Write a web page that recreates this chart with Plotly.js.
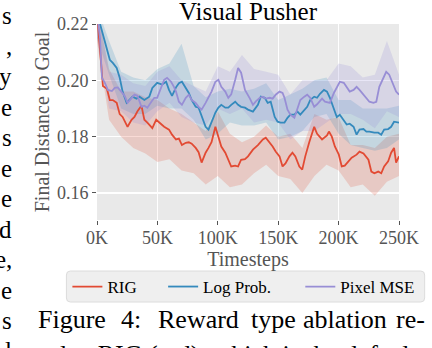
<!DOCTYPE html>
<html>
<head>
<meta charset="utf-8">
<script src="https://cdn.plot.ly/plotly-3.0.1.min.js"></script>
<style>
  html, body { margin: 0; padding: 0; background: #ffffff; }
  #chart { width: 432px; height: 348px; }
</style>
</head>
<body>
<div id="chart"></div>
<script>
// timesteps in thousands (K)
let rigSteps = [0, 2.5, 4.9, 8.2, 10.6, 13.1, 16.3, 18.8, 21.2, 25.3, 28.6, 31, 33.5, 36.8, 39.2, 41.7, 45.8, 49, 51.5, 55.6,
    59.6, 62.1, 65.4, 67.8, 70.3, 73.5, 76, 78.4, 81.7, 84.1, 86.6, 89.9, 92.3, 94.8, 98, 100.5, 102.9, 106.2, 108.7, 111.1,
    114.4, 116.8, 119.3, 122.5, 125, 129.1, 133.2, 137.3, 139.7, 143, 145.4, 147.9, 151.1, 153.6, 156, 159.3, 161.8, 164.2,
    167.5, 169.9, 172.4, 175.7, 178.1, 179.8, 182.2, 186.3, 190.4, 192, 194.4, 196.9, 200.2, 202.6, 205.1, 208.3, 210.8,
    214.9, 217.3, 220.6, 224.7, 227.1, 229.6, 232.8, 235.3, 237.7, 241, 243.5, 245.9, 247.6, 250];
let rigValues = [0.224, 0.212, 0.198, 0.197, 0.193, 0.193, 0.192, 0.188, 0.187, 0.1835, 0.186, 0.187, 0.189, 0.191, 0.186,
    0.185, 0.183, 0.186, 0.185, 0.1835, 0.1825, 0.1807, 0.179, 0.1793, 0.177, 0.1778, 0.178, 0.1775, 0.176, 0.1745, 0.1708,
    0.1743, 0.176, 0.178, 0.1835, 0.180, 0.1765, 0.1743, 0.1718, 0.1694, 0.1697, 0.1694, 0.1718, 0.172, 0.173, 0.1754, 0.177,
    0.179, 0.1796, 0.178, 0.1765, 0.1747, 0.173, 0.1694, 0.1705, 0.173, 0.1743, 0.173, 0.1694, 0.1683, 0.173, 0.178, 0.1814,
    0.1835, 0.181, 0.179, 0.1804, 0.1818, 0.180, 0.1765, 0.1736, 0.1694, 0.1697, 0.1712, 0.1725, 0.1736, 0.1747, 0.174,
    0.1718, 0.1676, 0.167, 0.1676, 0.167, 0.1694, 0.1712, 0.1743, 0.176, 0.1708, 0.173];

let logSteps = [0, 2.5, 4.9, 8.2, 10.6, 13.1, 16.3, 18.8, 21.2, 24.5, 27, 29.4, 32.7, 35.1, 39.2, 43.3, 45.8, 49.8, 53.9, 57.2,
    59.6, 62.1, 65.4, 67.8, 70.3, 73.5, 76, 78.4, 81.7, 84.1, 86.6, 89.9, 92.3, 94.8, 98, 100.5, 102.9, 106.2, 108.7, 111.1,
    114.4, 116.8, 119.3, 122.5, 125, 129.1, 133.2, 135.6, 138.9, 141.3, 143.8, 147.1, 149.5, 152, 155.2, 157.7, 160.1, 163.4,
    165.9, 168.3, 171.6, 174, 176.5, 179.8, 182.2, 184.6, 187.9, 190.4, 192.8, 196.1, 198.5, 201, 204.3, 206.7, 209.2, 212.4,
    214.9, 217.3, 220.6, 223, 225.5, 229.6, 232.8, 235.3, 237.7, 241, 243.5, 245.9, 250];
let logValues = [0.224, 0.220, 0.2154, 0.2108, 0.2073, 0.2062, 0.2044, 0.2009, 0.196, 0.192, 0.193, 0.1942, 0.1935, 0.1942,
    0.193, 0.1942, 0.1973, 0.1991, 0.1985, 0.1995, 0.1966, 0.1945, 0.1975, 0.199, 0.1995, 0.1973, 0.1955, 0.193, 0.1906,
    0.1903, 0.187, 0.1835, 0.1825, 0.185, 0.1885, 0.1903, 0.1913, 0.1903, 0.1903, 0.1913, 0.1924, 0.1913, 0.1906, 0.1903,
    0.1896, 0.1889, 0.1913, 0.1942, 0.1938, 0.192, 0.1924, 0.187, 0.1853, 0.185, 0.185, 0.1867, 0.1878, 0.1878, 0.1889,
    0.1878, 0.1896, 0.1906, 0.193, 0.1942, 0.1938, 0.1952, 0.1966, 0.196, 0.1938, 0.1896, 0.187, 0.1878, 0.186, 0.1843,
    0.1846, 0.1835, 0.1807, 0.1825, 0.1827, 0.1818, 0.1818, 0.1814, 0.1814, 0.1807, 0.1825, 0.1827, 0.1835, 0.1853, 0.185];

let mseSteps = [0, 2.5, 3.3, 4.1, 6.5, 9, 12.3, 14.7, 17.2, 20.4, 22.9, 25.3, 28.6, 31, 33.5, 36.8, 39.2, 41.7, 45, 47.4,
    49.8, 53.1, 55.6, 58, 61.3, 63.7, 65.4, 67.8, 70.3, 73.5, 76, 78.4, 81.7, 84.1, 86.6, 89.9, 92.3, 94.8, 98, 100.5, 102.9,
    106.2, 108.7, 111.1, 114.4, 116.8, 119.3, 122.5, 126.6, 129.1, 131.5, 134.8, 137.3, 139.7, 143, 145.4, 147.9, 151.1,
    153.6, 155.2, 157.7, 160.1, 163.4, 165.9, 168.3, 171.6, 174, 176.5, 179.8, 182.2, 186.3, 188.7, 192.8, 196.1, 198.5, 201,
    204.3, 206.7, 209.2, 212.4, 214.9, 217.3, 220.6, 223, 225.5, 228.8, 231.2, 233.7, 237, 239.4, 241.9, 245.1, 247.6, 250];
let mseValues = [0.224, 0.215, 0.2073, 0.2009, 0.1991, 0.1966, 0.1962, 0.1973, 0.1975, 0.196, 0.1945, 0.192, 0.1938, 0.1949,
    0.1945, 0.1906, 0.191, 0.1903, 0.1924, 0.1938, 0.1938, 0.1973, 0.2002, 0.2009, 0.1995, 0.1977, 0.196, 0.1924, 0.1913,
    0.1938, 0.1949, 0.193, 0.192, 0.1906, 0.1896, 0.192, 0.1938, 0.196, 0.1995, 0.2002, 0.1977, 0.196, 0.1938, 0.195, 0.2002,
    0.2044, 0.2027, 0.1966, 0.1935, 0.1913, 0.1925, 0.1938, 0.1942, 0.1935, 0.1938, 0.1935, 0.1949, 0.196, 0.1955, 0.1938,
    0.1896, 0.1878, 0.1867, 0.1896, 0.193, 0.1942, 0.1949, 0.1938, 0.1906, 0.1915, 0.1935, 0.1924, 0.192, 0.1955, 0.1977,
    0.1995, 0.1991, 0.1977, 0.196, 0.1966, 0.1977, 0.1966, 0.1949, 0.1938, 0.1924, 0.192, 0.1924, 0.1977, 0.2009, 0.203,
    0.202, 0.1984, 0.196, 0.1949];

// shaded spread, read every 10K
let bandSteps = [0, 10, 20, 30, 40, 50, 60, 70, 80, 90, 100, 110, 120, 130, 140, 150, 160, 170, 180, 190, 200, 210, 220, 230, 240, 250];
let rigLow = [0.214, 0.186, 0.180, 0.176, 0.174, 0.171, 0.172, 0.168, 0.167, 0.163, 0.166, 0.162, 0.163, 0.167, 0.170, 0.166,
    0.165, 0.160, 0.166, 0.170, 0.168, 0.162, 0.163, 0.159, 0.164, 0.166];
let rigHigh = [0.226, 0.204, 0.196, 0.196, 0.194, 0.193, 0.190, 0.188, 0.185, 0.182, 0.189, 0.181, 0.178, 0.180, 0.184, 0.180,
    0.181, 0.176, 0.188, 0.186, 0.187, 0.177, 0.177, 0.176, 0.180, 0.181];
let logLow = [0.215, 0.202, 0.190, 0.188, 0.188, 0.191, 0.190, 0.190, 0.186, 0.179, 0.181, 0.185, 0.184, 0.184, 0.185, 0.179,
    0.180, 0.182, 0.187, 0.188, 0.181, 0.177, 0.176, 0.175, 0.176, 0.179];
let logHigh = [0.226, 0.214, 0.203, 0.201, 0.200, 0.204, 0.206, 0.213, 0.198, 0.194, 0.196, 0.197, 0.196, 0.197, 0.199, 0.193,
    0.195, 0.197, 0.200, 0.201, 0.193, 0.193, 0.190, 0.190, 0.190, 0.191];
let mseLow = [0.215, 0.190, 0.189, 0.185, 0.184, 0.189, 0.192, 0.187, 0.185, 0.184, 0.190, 0.188, 0.190, 0.185, 0.186, 0.185,
    0.179, 0.182, 0.182, 0.185, 0.188, 0.188, 0.186, 0.183, 0.189, 0.187];
let mseHigh = [0.226, 0.203, 0.202, 0.199, 0.198, 0.203, 0.205, 0.200, 0.198, 0.196, 0.205, 0.203, 0.209, 0.204, 0.203, 0.202,
    0.195, 0.200, 0.200, 0.200, 0.206, 0.205, 0.201, 0.202, 0.214, 0.202];

let seriesNames = ["RIG", "Log Prob.", "Pixel MSE"];
let seriesColors = ["#E24A33", "#348ABD", "#988ED5"];
let bandColors = ["rgba(226,74,51,0.2)", "rgba(52,138,189,0.2)", "rgba(152,142,213,0.22)"];

let xTicks = [0, 50, 100, 150, 200, 250];
let xTickText = ["0K", "50K", "100K", "150K", "200K", "250K"];
let yTicks = [0.16, 0.18, 0.20, 0.22];

// text of the page around the figure (cut at the left edge and bottom)
let leftColumn = ["s", ",", "y", "e", "s", "e", "e", "d", "e,", "e", "s", "l"];
let captionWords = ["Figure", "4:", "Reward", "type", "ablation", "re-"];
let captionWordX = [35, 119, 157, 251, 304, 398];
let captionSecond = "sults. RIG (red), which is the default";

let serif = "Liberation Serif";

// band polygon: upper edge forward, lower edge backward
function band(steps, low, high, color) {
    return {
        x: steps.concat(steps.slice().reverse()),
        y: high.concat(low.slice().reverse()),
        type: "scatter", mode: "lines", fill: "toself",
        fillcolor: color, line: { width: 0 },
        hoverinfo: "skip", showlegend: false
    };
}

function line(steps, values, i, legendId) {
    return {
        x: steps, y: values,
        type: "scatter", mode: "lines", name: seriesNames[i],
        line: { color: seriesColors[i], width: 1.8 },
        legend: legendId
    };
}

let data = [
    band(bandSteps, rigLow, rigHigh, bandColors[0]),
    band(bandSteps, logLow, logHigh, bandColors[1]),
    band(bandSteps, mseLow, mseHigh, bandColors[2]),
    line(rigSteps, rigValues, 0, "legend"),
    line(logSteps, logValues, 1, "legend2"),
    line(mseSteps, mseValues, 2, "legend3")
];

// plot area spans x 97..403, y 24..220 px
let plotLeft = 97, plotTop = 24, plotW = 306, plotH = 196;
function px2x(px) { return (px - plotLeft) / plotW; }
function px2y(py) { return (plotTop + plotH - py) / plotH; }

let annotations = [];
leftColumn.forEach(function (ch, k) {
    annotations.push({
        text: ch, xref: "paper", yref: "paper",
        x: px2x(13), y: px2y(16 + 30.45 * k),
        xanchor: "right", yanchor: "middle", showarrow: false,
        font: { family: serif, size: 25, color: "#000000" }
    });
});
captionWords.forEach(function (w, k) {
    annotations.push({
        text: w, xref: "paper", yref: "paper",
        x: px2x(captionWordX[k]), y: px2y(319),
        xanchor: "left", yanchor: "middle", showarrow: false,
        font: { family: serif, size: 26, color: "#000000" }
    });
});
annotations.push({
    text: captionSecond, xref: "paper", yref: "paper",
    x: px2x(34), y: px2y(354),
    xanchor: "left", yanchor: "middle", showarrow: false,
    font: { family: serif, size: 26, color: "#000000" }
});

// legend frame (three legends sit on it)
function roundedBox(x0, y0, x1, y1, r) {
    function p(x, y) { return px2x(x) + "," + px2y(y); }
    return "M" + p(x0 + r, y0) + " L" + p(x1 - r, y0) + " Q" + p(x1, y0) + " " + p(x1, y0 + r) +
        " L" + p(x1, y1 - r) + " Q" + p(x1, y1) + " " + p(x1 - r, y1) +
        " L" + p(x0 + r, y1) + " Q" + p(x0, y1) + " " + p(x0, y1 - r) +
        " L" + p(x0, y0 + r) + " Q" + p(x0, y0) + " " + p(x0 + r, y0) + " Z";
}

function legendAt(textPx) {
    return {
        orientation: "h",
        x: px2x(textPx - 40), xanchor: "left",
        y: px2y(287), yanchor: "middle",
        bgcolor: "rgba(0,0,0,0)", borderwidth: 0,
        font: { family: serif, size: 17, color: "#000000" }
    };
}

let layout = {
    width: 432, height: 348,
    margin: { l: 97, r: 29, t: 24, b: 128 },
    paper_bgcolor: "#ffffff",
    plot_bgcolor: "#E9E9E9",
    font: { family: serif, color: "#555555" },
    title: {
        text: "Visual Pusher",
        font: { family: serif, size: 25, color: "#000000" },
        x: px2x(250), xref: "paper", xanchor: "center",
        y: 1 - 11 / 348, yref: "container", yanchor: "middle"
    },
    xaxis: {
        range: [0, 250],
        tickvals: xTicks, ticktext: xTickText,
        ticks: "outside", ticklen: 4, tickcolor: "#555555",
        ticklabelstandoff: -3,
        tickfont: { family: serif, size: 18, color: "#555555" },
        showgrid: true, gridcolor: "#ffffff", gridwidth: 1.2,
        zeroline: false, showline: false,
        title: { text: "Timesteps", font: { family: serif, size: 20, color: "#555555" }, standoff: 0 }
    },
    yaxis: {
        range: [0.1504, 0.22],
        tickvals: yTicks, tickformat: ".2f",
        ticks: "outside", ticklen: 4, tickcolor: "#555555",
        tickfont: { family: serif, size: 18, color: "#555555" },
        showgrid: true, gridcolor: "#ffffff", gridwidth: 1.2,
        zeroline: false, showline: false,
        title: { text: "Final Distance to Goal", font: { family: serif, size: 20, color: "#555555" }, standoff: 1 }
    },
    showlegend: true,
    legend: legendAt(107),
    legend2: legendAt(204),
    legend3: legendAt(343),
    shapes: [{
        type: "path", xref: "paper", yref: "paper",
        path: roundedBox(66, 271, 429, 302, 4),
        fillcolor: "#EFEFEF", line: { color: "#DCDCDC", width: 1 }
    }],
    annotations: annotations
};

Plotly.newPlot("chart", data, layout, { displayModeBar: false, staticPlot: true });
</script>
</body>
</html>
